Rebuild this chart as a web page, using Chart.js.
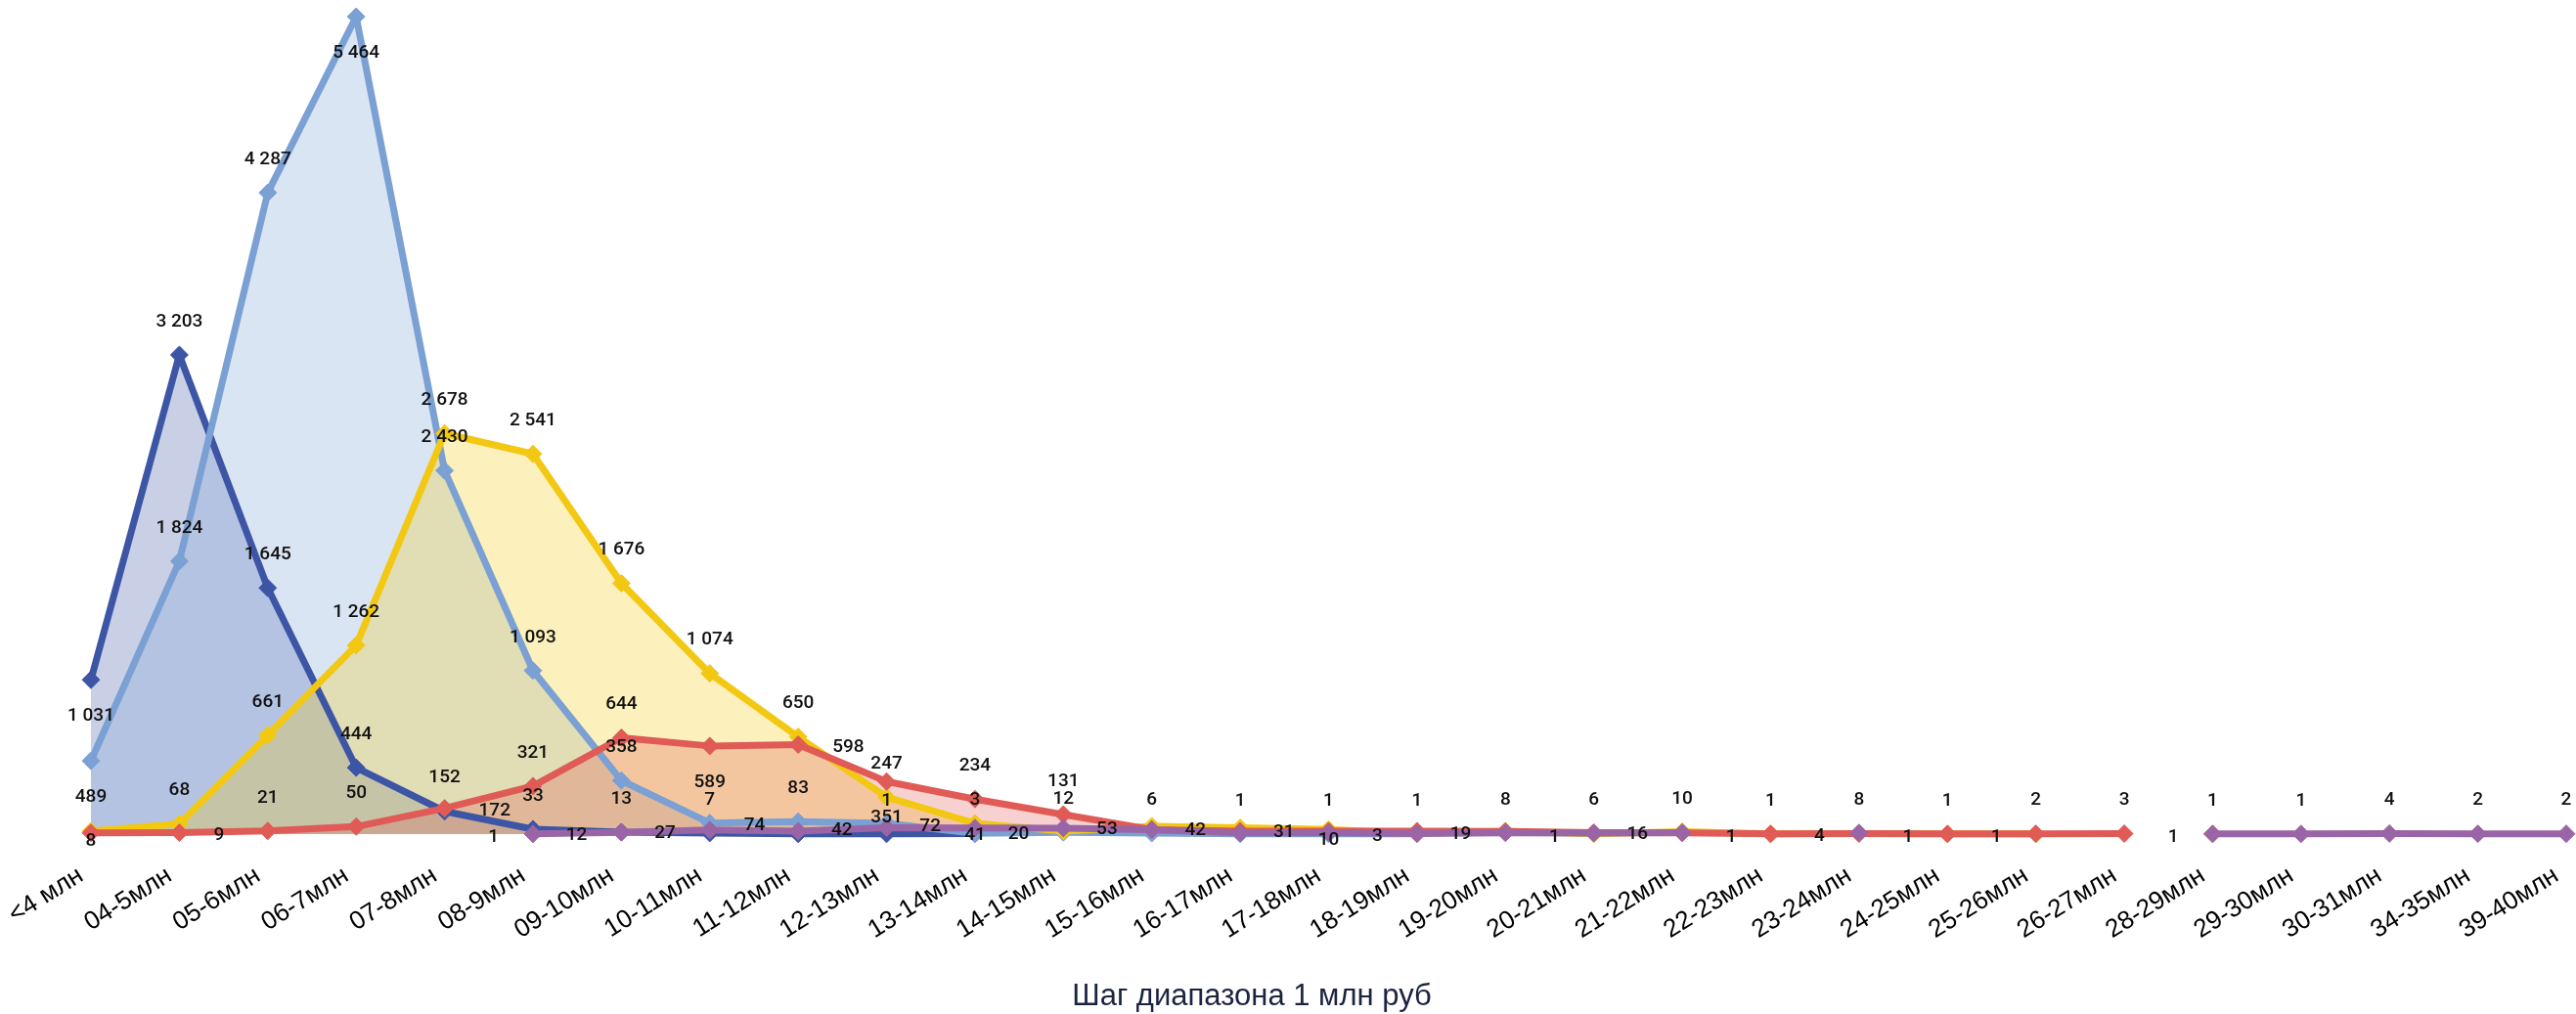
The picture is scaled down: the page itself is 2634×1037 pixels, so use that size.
<!DOCTYPE html>
<html>
<head>
<meta charset="utf-8">
<script src="https://cdn.jsdelivr.net/npm/chart.js@4.4.1/dist/chart.umd.min.js"></script>
<style>
html,body{margin:0;padding:0;background:#fff;}
#wrap{width:2634px;height:1037px;position:relative;overflow:hidden;}
</style>
</head>
<body>
<div id="wrap"><canvas id="c" width="2634" height="1037"></canvas></div>
<script>
// ---------- DATA ----------
const categories = ['<4 млн','04-5млн','05-6млн','06-7млн','07-8млн','08-9млн','09-10млн','10-11млн','11-12млн','12-13млн','13-14млн','14-15млн','15-16млн','16-17млн','17-18млн','18-19млн','19-20млн','20-21млн','21-22млн','22-23млн','23-24млн','24-25млн','25-26млн','26-27млн','28-29млн','29-30млн','30-31млн','34-35млн','39-40млн'];

const seriesDarkBlue  = [1031,3203,1645,444,152,33,13,7,1,1,3,null,null,null,null,null,null,null,null,null,null,null,null,null,null,null,null,null,null];
const seriesLightBlue = [489,1824,4287,5464,2430,1093,358,74,83,72,5,12,6,1,1,1,null,null,null,null,null,null,null,null,null,null,null,null,null];
const seriesYellow    = [20,68,661,1262,2678,2541,1676,1074,650,247,72,20,53,42,31,3,19,1,16,1,4,1,1,null,1,null,null,null,null];
const seriesRed       = [8,9,21,50,172,321,644,589,598,351,234,131,30,20,20,20,18,10,8,1,4,1,2,3,null,null,null,null,null];
const seriesPurple    = [null,null,null,null,null,1,12,27,20,42,41,40,30,8,10,3,8,6,10,null,8,null,null,null,1,1,4,2,2];

const axisTitle = 'Шаг диапазона 1 млн руб';

// ---------- STYLE ----------
const colors = {
  darkBlue:  '#3D55A5',
  lightBlue: '#7BA0D3',
  yellow:    '#F3C813',
  red:       '#E05B56',
  purple:    '#9A65A6'
};
function rgba(hex, a){
  const n = parseInt(hex.slice(1),16);
  return `rgba(${(n>>16)&255},${(n>>8)&255},${n&255},${a})`;
}

// label placement per dataset (style only): default + per-index exceptions
const placements = {
  above: {dx:0,   dy:-34, align:'center'},
  below: {dx:0,   dy:37,  align:'center'},
  low:   {dx:0,   dy:8,   align:'center'},
  right: {dx:35,  dy:3,   align:'left'},
  left:  {dx:-35, dy:3,   align:'right'},
  hide:  null
};
function rangeMap(from, to, pos){ const m={}; for(let i=from;i<=to;i++) m[i]=pos; return m; }
const labelRules = [
  { def:'above', at:{0:'below', 8:'hide'} },
  { def:'above', at:{0:'below', 3:'below', 7:'right', 9:'hide', 10:'hide'} },
  { def:'above', at:Object.assign({0:'hide'}, rangeMap(10,24,'left')) },
  { def:'above', at:Object.assign({0:'low', 1:'right', 4:'right', 7:'below', 8:'right', 9:'below', 20:'hide'}, rangeMap(12,18,'hide')) },
  { def:'above', at:Object.assign(rangeMap(5,9,'left'), {8:'hide', 10:'low', 11:'hide', 12:'hide', 13:'hide', 14:'low', 15:'hide'}) }
];

function fmt(v){ return String(v).replace(/\B(?=(\d{3})+(?!\d))/g,' '); }

const valueLabels = {
  id:'valueLabels',
  afterDatasetsDraw(chart){
    const ctx = chart.ctx;
    ctx.save();
    ctx.font = '500 19px Roboto, "DejaVu Sans Condensed", sans-serif';
    ctx.fillStyle = '#111111';
    ctx.textBaseline = 'middle';
    chart.data.datasets.forEach((ds, di) => {
      const meta = chart.getDatasetMeta(di);
      const rule = labelRules[di];
      meta.data.forEach((pt, i) => {
        const v = ds.data[i];
        if (v === null || v === undefined) return;
        const key = (rule.at[i] !== undefined) ? rule.at[i] : rule.def;
        const p = placements[key];
        if (!p) return;
        ctx.textAlign = p.align;
        ctx.fillText(fmt(v), pt.x + p.dx, pt.y + p.dy);
      });
    });
    ctx.restore();
  }
};

const bottomTitle = {
  id:'bottomTitle',
  afterDraw(chart){
    const ctx = chart.ctx;
    ctx.save();
    ctx.font = '31px "Liberation Sans", Arial, sans-serif';
    ctx.fillStyle = '#1B2340';
    ctx.textAlign = 'center';
    ctx.textBaseline = 'middle';
    ctx.fillText(axisTitle, 1280, 1019);
    ctx.restore();
  }
};

function mkDataset(label, data, color){
  return {
    label, data,
    borderColor: color,
    backgroundColor: rgba(color, 0.28),
    pointBackgroundColor: color,
    pointBorderColor: color,
    pointBorderWidth: 1,
    pointStyle: 'rectRot',
    pointRadius: 9,
    borderWidth: 7,
    borderJoinStyle: 'round',
    fill: 'origin',
    tension: 0,
    spanGaps: false,
    clip: false
  };
}

const datasets = [
  mkDataset('Ряд 1', seriesDarkBlue,  colors.darkBlue),
  mkDataset('Ряд 2', seriesLightBlue, colors.lightBlue),
  mkDataset('Ряд 3', seriesYellow,    colors.yellow),
  mkDataset('Ряд 4', seriesRed,       colors.red),
  mkDataset('Ряд 5', seriesPurple,    colors.purple)
];
// Excel-like drawing order: later series on top
datasets.forEach((d, i) => { d.order = datasets.length - i; });

new Chart(document.getElementById('c'), {
  type: 'line',
  data: { labels: categories, datasets },
  options: {
    responsive: false,
    animation: false,
    devicePixelRatio: 1,
    layout: { padding: { top: 17, right: 10, left: 93, bottom: 0 } },
    plugins: {
      legend: { display: false },
      tooltip: { enabled: false },
      filler: { drawTime: 'beforeDatasetsDraw' }
    },
    scales: {
      x: {
        offset: false,
        grid: { display: false, drawTicks: false },
        border: { display: false },
        afterFit(scale){ scale.height = 184; scale.paddingLeft = 0; scale.paddingRight = 0; },
        ticks: {
          autoSkip: false,
          minRotation: 32,
          maxRotation: 32,
          padding: 27,
          labelOffset: -10,
          color: '#000000',
          font: { family: '"Liberation Sans", Arial, sans-serif', size: 26 }
        }
      },
      y: {
        display: false,
        min: 0,
        max: Math.max(...seriesLightBlue.filter(v => v !== null))
      }
    }
  },
  plugins: [valueLabels, bottomTitle]
});
</script>
</body>
</html>
